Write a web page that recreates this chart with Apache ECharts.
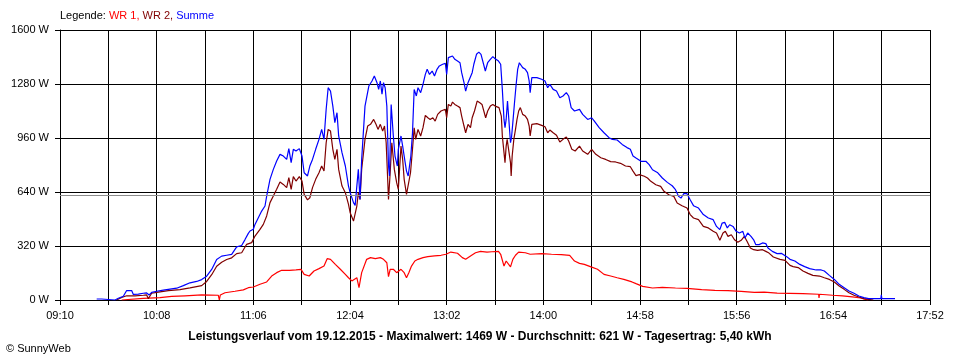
<!DOCTYPE html>
<html><head><meta charset="utf-8">
<script src="https://cdn.jsdelivr.net/npm/echarts@6/dist/echarts.min.js"></script>
<style>html,body{margin:0;padding:0;background:#fff}#c{width:960px;height:360px}</style>
</head><body><div id="c"></div>
<script>
// time in minutes of day, power in W
const START = 550; // 09:10
const END = 1072;  // 17:52
const xTickLabels = ['09:10','10:08','11:06','12:04','13:02','14:00','14:58','15:56','16:54','17:52'];
const averageW = 621;
const titleText = 'Leistungsverlauf vom 19.12.2015 - Maximalwert: 1469 W - Durchschnitt: 621 W - Tagesertrag: 5,40 kWh';

const wr1 = [
[587,0],[588,7],[600,10],[610,14],[617,21],[625,25],[635,30],[645,28],[645.6,0],[646.2,30],[649,43],[655,52],[660,60],[663,73],[666,77],[670,93],[674,107],[677,142],[680,162],[683,176],[687.7,176],[691.6,178],[694.6,182],[696.5,152],[699.5,142],[702.4,172],[705.4,186],[708.4,201],[710.3,245],[712.3,241],[715.2,211],[718.2,182],[721.2,152],[723.1,132],[725.1,113],[728.1,132],[729.4,73],[731,162],[734,241],
[736.3,251],[739.2,245],[742.2,251],[744.1,241],[746.1,221],[747.1,138],[748.1,182],[750,182],[752,162],[753,152],[754.6,182],[756.5,162],[757.9,132],[759.3,162],[760.9,201],[762.9,231],[764.8,241],[767.8,251],[770.7,257],[774.7,261],[778.6,265],[781.6,271],[784.5,284],[788.5,277],[791.4,251],[793.4,241],[796.3,261],[799.3,280],[802.3,288],[806.2,284],[809.1,286],[813.1,288],
[814.4,271],[816.4,201],[817.7,231],[818.9,241],[820.3,196],[821.7,241],[823.3,265],[825.2,284],[829.2,280],[832.1,271],[833.1,277],[839,275],[844.9,271],[850.8,269],[855.8,265],[858.7,231],[861.7,217],[864.6,211],[868.6,196],[872.5,182],[876.4,152],[880.4,142],[884.3,132],[888.3,122],[893.2,107],
[895.6,97],[899.6,81],[905.5,71],[911.4,75],[919.3,71],[926.2,69],[935,61],[942.9,57],[950.8,55],[958.7,51],[966.6,45],[972.5,47],[980.3,41],[995.8,38],[1005.2,34],[1005.4,12],[1005.7,34],[1013.6,28],[1019.5,24],[1025.4,18],[1030.3,12],[1033.3,4],[1035,0]
];

const wr2 = [
[584,0],[587,15],[590,25],[595,25],[600,28],[602,30],[603,8],[605,40],[608,45],[615,55],[622,62],[628,72],[635,85],[638,110],[641,150],[644,200],[647,224],[650,240],[653,250],[656,275],[659,280],[662,330],[665,340],[667,379],[670,419],[672,448],[674,498],[676,577],[678,616],[680,656],[682,699],[684,685],[686,666],[687.3,725],[688.7,656],[690,731],[691.6,705],[693.6,731],[695.2,705],[696.5,626],[698.5,593],[699.9,606],[701.5,666],[703.4,715],[705.4,754],[707,794],[708.4,764],[709.7,932],[710.9,1011],[712.3,1001],[713.7,893],[714.9,833],[716.2,893],[717.2,774],[719.2,675],[721.2,636],[723.1,567],[724.1,517],[726.1,468],[727.1,478],[728.1,557],[729,636],[730,596],[731,774],[733,952],[734.6,1031],
[736.3,1041],[738.2,1070],[739.6,1041],[740.8,1011],[742.2,1041],[743.6,1001],[744.7,1031],[745.7,932],[746.7,695],[747.1,596],[748.1,754],[749.1,932],[750.6,774],[752,695],[753,656],[754.6,912],[755.6,833],[756.5,715],[757.9,626],[758.9,616],[760.3,754],[761.5,893],[762.5,1021],[763.4,952],[764.8,1011],[766.4,972],[767.8,1021],[769.2,1094],[770.7,1080],[772.1,1070],[773.7,1080],[775.1,1060],[776.6,1100],[778.6,1120],[781.2,1130],[782,1080],[783,1159],[784.5,1149],[785.5,1173],[786.9,1159],[788.5,1149],[790,1140],[791,1090],[792.4,1031],[793.4,991],[794.8,1041],[796.3,1021],[797.3,1080],[798.7,1120],[800.3,1179],[801.9,1169],[803.2,1159],[804.2,1149],[805.4,1080],[806.6,1120],[808.2,1149],[809.7,1159],[811.1,1149],
[813.4,1140],[814.8,1090],[815.4,972],[816.4,873],[817,814],[817.7,912],[818.3,952],[819.3,942],[820.3,814],[820.7,735],[821.3,853],[822.3,952],[823.3,1011],[824.2,1070],[825.2,1120],[826.2,1140],[827.6,1100],[829.2,1090],[830.5,1070],[831.5,1031],[832.1,972],[833.1,1041],[836.1,1045],[839,1035],[841,1027],[842.6,991],[843.9,1007],[845.9,991],[847.9,976],[849.9,936],[851.8,952],[853.8,966],[855.2,942],[857.1,893],[859.1,883],[861.7,912],[863.6,883],[866.6,863],[869,893],[871.5,863],[874.5,843],[877.4,833],[880.4,820],[883.3,818],[886.3,810],[889.3,794],[892.2,790],[893.8,764],
[894.7,762],[895.6,737],[897.6,743],[900.6,733],[902.5,723],[904.5,703],[907.5,683],[910.4,673],[912.4,644],[915.3,624],[918.3,614],[920.3,575],[923.2,559],[926.2,545],[928.1,506],[930.1,486],[933.1,476],[936,436],[939,427],[941.9,407],[943.9,397],[945.9,354],[947.8,397],[949.2,407],[950.8,377],[952.8,387],[954.7,357],[956.7,342],[958.7,354],[960.6,377],[962.2,348],[964.2,308],[966.2,298],[968.5,294],[971.5,298],[973.5,288],[975.4,278],[978,255],[982,241],
[985,235],[988,205],[989.9,198],[992.9,192],[995.8,172],[998.8,158],[1001.7,146],[1005.7,142],[1008.6,132],[1011.6,122],[1014.6,107],[1017.5,83],[1020.5,63],[1023.4,43],[1026.4,28],[1029.3,18],[1032.3,8],[1035.2,4],[1038,0]
];

const summe = [
[572,6],[575,6],[576,0],[583,0],[585,10],[588,22],[590,56],[593,56],[594,33],[597,35],[600,40],[602,42],[603.5,30],[605,45],[608,52],[612,58],[616,64],[620,70],[624,85],[628,102],[632,110],[635,121],[638,141],[641,181],[644,240],[647,260],[650,265],[653,270],[656,315],[659,323],[661,358],[663,395],
[664,409],[666,419],[667,448],[669,488],[671,527],[673,557],[674,616],[676,715],[678,774],[680,824],[682,863],[684,853],[686,833],[687.3,897],[688.7,814],[690,893],[691.6,883],[693.6,897],[695.2,853],[696.5,754],[698.5,735],[699.9,794],[701.5,833],[703.4,893],[705.4,952],[707,1011],[708.4,952],[709.7,1130],[710.9,1258],[712.3,1238],[713.7,1149],[714.9,1051],[716.2,1110],[717.2,972],[719.2,873],[721.2,794],[723.1,675],[724.1,636],[726.1,577],[727.1,561],[728.1,675],[729,774],[730,596],[731,833],[733,1149],
[735.3,1268],[737.2,1298],[738.6,1327],[740.2,1288],[741.2,1248],[742.2,1298],[743.2,1219],[744.1,1288],[745.1,1258],[746.1,1149],[747.1,794],[747.7,735],[748.7,1159],[750,972],[751,853],[752.4,794],[753,893],[754.6,972],[755.6,912],[756.5,853],[757.9,764],[758.9,735],[760.5,853],[761.5,991],[762.5,1248],[763.8,1209],[764.8,1258],[766.4,1229],[767.8,1278],[769.2,1337],[770.3,1367],[771.7,1337],[773.3,1357],[774.7,1327],[776.2,1367],[777.6,1387],[779.6,1397],[781.2,1402],[782,1337],[783,1436],[784.1,1426],[785.5,1446],[786.9,1426],[788.5,1416],[790,1406],[791,1347],[792.4,1288],[793.4,1238],[794.8,1288],[795.9,1298],[797.3,1347],[798.3,1397],[799.9,1456],[801.3,1469],[802.6,1456],[803.8,1446],[805.2,1357],[806.6,1406],[808.2,1426],[809.7,1442],[811.1,1430],[813.1,1416],
[814.4,1397],[815.4,1248],[816.4,1070],[817,1021],[817.7,1070],[818.5,1179],[819.3,1189],[820.3,932],[820.9,962],[821.7,1051],[822.7,1169],[823.6,1268],[824.6,1367],[825.6,1406],[826.2,1416],[827.6,1377],[829.2,1367],[830.5,1347],[831.5,1298],[832.1,1229],[833.1,1318],[836.1,1318],[839,1308],[841,1298],[842.6,1258],[843.9,1278],[845.9,1248],[847.9,1238],[849.9,1199],[851.8,1209],[853.8,1229],[855.2,1209],[856.7,1140],[858.7,1120],[861.7,1130],[863.6,1100],[866.6,1070],[869,1080],[870.5,1061],[873.5,1021],[876.4,991],[879.4,962],[881.4,952],[884.3,948],[887.3,922],[890.2,903],[892.2,893],[893.8,853],
[895.6,841],[898.6,822],[901.5,822],[903.5,802],[905.5,772],[908.4,756],[911.4,723],[914.4,697],[917.3,677],[919.3,654],[921.2,614],[922.6,604],[924.2,630],[926.2,630],[928.1,594],[930.1,559],[933.1,545],[936,506],[939,486],[941.9,476],[943.9,436],[945.9,417],[947.3,456],[948.8,460],[950.4,427],[951.8,446],[953.8,436],[955.7,407],[957.7,397],[959.7,407],[961,367],[962.6,397],[964.6,377],[966.2,357],[967.5,328],[969.5,328],[971.5,338],[973.5,334],[974.8,308],[977.4,288],[980.3,275],
[983,276],[986,257],[988,241],[990.9,231],[993.9,211],[996.8,198],[999.8,186],[1003.7,178],[1006.7,178],[1008.6,172],[1011.6,146],[1014.6,122],[1017.5,93],[1020.5,73],[1023.4,53],[1026.4,40],[1029.3,24],[1032.3,14],[1035.2,8],[1042.5,8],[1042.8,30],[1043.1,8],[1051,8]
];

const shift = a => a.map(p => [p[0] - START, p[1]]);
const F = '"Liberation Sans", Arial, sans-serif';
const chart = echarts.init(document.getElementById('c'), null, {renderer: 'canvas'});
const lineSeries = (name, data, color, z) => ({
  name, type: 'line', data: shift(data), showSymbol: false, symbol: 'none', z: z,
  sampling: null, clip: true, connectNulls: true,
  lineStyle: {color, width: 1.2}, itemStyle: {color}, silent: true
});
chart.setOption({
  animation: false,
  backgroundColor: '#fff',
  grid: {left: 60, right: 30, top: 30, bottom: 60},
  xAxis: {
    type: 'value', min: 0, max: END - START, interval: 29,
    axisLine: {lineStyle: {color: '#000', width: 1}},
    axisTick: {show: true, length: 5, lineStyle: {color: '#000'}},
    splitLine: {show: true, lineStyle: {color: '#000', width: 1}},
    axisLabel: {
      color: '#000', fontFamily: F, fontSize: 11, margin: 10, showMinLabel: true, showMaxLabel: true,
      formatter: v => { const r = Math.round(v); return r % 58 === 0 ? xTickLabels[r / 58] : ''; }
    }
  },
  yAxis: {
    type: 'value', min: 0, max: 1600, interval: 320,
    axisLine: {show: true, lineStyle: {color: '#000'}},
    axisTick: {show: true, length: 5, lineStyle: {color: '#000'}},
    splitLine: {show: true, lineStyle: {color: '#000'}},
    axisLabel: {color: '#000', fontFamily: F, fontSize: 11, margin: 11, formatter: v => Math.round(v) + ' W'}
  },
  series: [
    {type: 'line', data: [], silent: true, z: 1,
     markLine: {silent: true, symbol: 'none', label: {show: false},
       lineStyle: {color: '#8c8c8c', type: 'solid', width: 1}, data: [{yAxis: averageW}]}},
    lineSeries('WR 1', wr1, '#ff0000', 2),
    lineSeries('WR 2', wr2, '#800000', 3),
    lineSeries('Summe', summe, '#0000ff', 4)
  ],
  graphic: [
    {type: 'text', left: 60, top: 10, style: {
      text: '{k|Legende: }{a|WR 1, }{b|WR 2, }{c|Summe}',
      rich: {
        k: {fill: '#000', fontFamily: F, fontSize: 11},
        a: {fill: '#ff0000', fontFamily: F, fontSize: 11},
        b: {fill: '#800000', fontFamily: F, fontSize: 11},
        c: {fill: '#0000ff', fontFamily: F, fontSize: 11}
      }}},
    {type: 'text', x: 480, y: 337, style: {text: titleText, fill: '#000', fontFamily: F, fontSize: 12, fontWeight: 'bold', align: 'center', verticalAlign: 'middle'}},
    {type: 'text', x: 6, y: 349, style: {text: '© SunnyWeb', fill: '#000', fontFamily: F, fontSize: 11, align: 'left', verticalAlign: 'middle'}}
  ]
});
</script></body></html>
